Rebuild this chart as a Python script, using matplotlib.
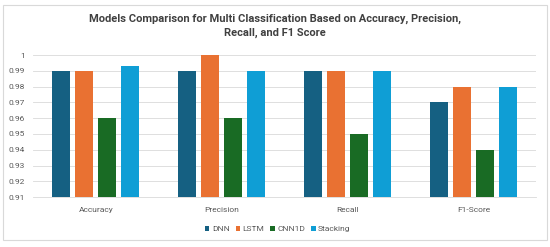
import matplotlib.pyplot as plt
import numpy as np

categories = ["Accuracy", "Precision", "Recall", "F1-Score"]
models = ["DNN", "LSTM", "CNN1D", "Stacking"]
dnn = [0.99, 0.99, 0.99, 0.97]
lstm = [0.99, 1.00, 0.99, 0.98]
cnn1d = [0.96, 0.96, 0.95, 0.94]
stacking = [0.993, 0.99, 0.99, 0.98]
yticks = [0.91, 0.92, 0.93, 0.94, 0.95, 0.96, 0.97, 0.98, 0.99, 1]

colors = ["#156082", "#E97132", "#196B24", "#0F9ED5"]
series = [dnn, lstm, cnn1d, stacking]

plt.rcParams["font.family"] = ["Roboto", "DejaVu Sans"]

fig = plt.figure(figsize=(5.5, 2.47), dpi=100)
ax = fig.add_axes([0.06, 0.202, 0.915, 0.575])

x = np.arange(len(categories))
step = 0.183
width = 0.143
base = 0.91
for i, (vals, name) in enumerate(zip(series, models)):
    heights = [v - base for v in vals]
    ax.bar(x + (i - 1.5) * step, heights, width, bottom=base, color=colors[i], label=name, zorder=3)

ax.set_ylim(0.91, 1.0)
ax.set_yticks(yticks)
ax.set_yticklabels([("%g" % t) for t in yticks])
ax.set_xlim(-0.5, 3.5)
ax.set_xticks(x)
ax.set_xticklabels(categories)
ax.tick_params(axis="both", length=0, labelsize=6, labelcolor="#595959")
ax.tick_params(axis="x", pad=7)
ax.tick_params(axis="y", pad=6)
ax.grid(axis="y", color="#d9d9d9", linewidth=0.6, zorder=0)
for s in ax.spines.values():
    s.set_visible(False)
ax.spines["bottom"].set_visible(True)
ax.spines["bottom"].set_color("#d9d9d9")
ax.spines["bottom"].set_linewidth(0.6)

fig.suptitle("Models Comparison for Multi Classification Based on Accuracy, Precision,\nRecall, and F1 Score",
             fontsize=8, fontweight="bold", color="#404040", y=0.945, linespacing=1.5)

fig.legend(loc="lower center", ncol=4, bbox_to_anchor=(0.505, 0.03), frameon=False,
           fontsize=6, labelcolor="#595959", handlelength=0.55, handleheight=0.55,
           columnspacing=0.7, handletextpad=0.3)

border = plt.Rectangle((0.006, 0.028), 0.988, 0.95, transform=fig.transFigure,
                       fill=False, edgecolor="#d9d9d9", linewidth=0.8)
fig.patches.append(border)

fig.savefig("out.png", dpi=100)
